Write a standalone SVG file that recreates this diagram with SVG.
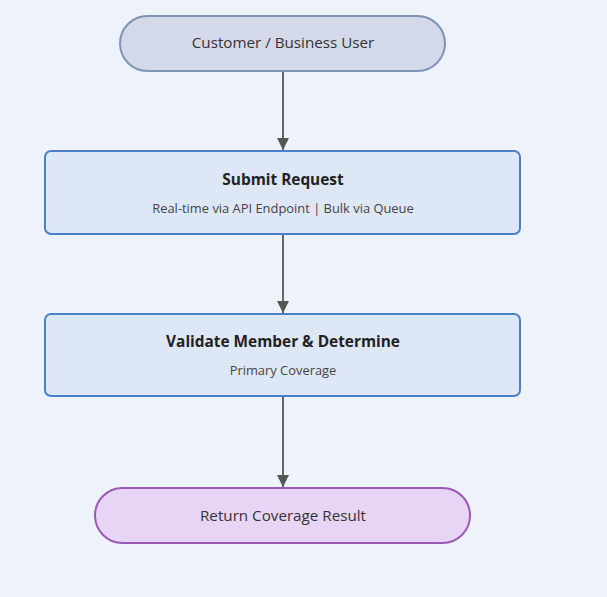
<svg xmlns="http://www.w3.org/2000/svg" width="607" height="597" viewBox="0 0 607 597">
<style>
text{font-family:"Open Sans","Noto Sans","Liberation Sans",sans-serif;text-anchor:middle}
.lbl{font-size:15.2px;fill:#333}
.ttl{font-size:15.4px;font-weight:bold;fill:#222}
.sub{font-size:12.9px;fill:#444}
.box{fill:#dde7f5;stroke:#4a80c8;stroke-width:2}
.edge{stroke:#666;stroke-width:2;fill:none}
</style>
<defs>
<marker id="arr" viewBox="0 0 10 10" refX="10" refY="5" markerWidth="6" markerHeight="6" markerUnits="strokeWidth" orient="auto">
<path d="M0,0 L10,5 L0,10 z" fill="#555"/>
</marker>
</defs>
<rect width="607" height="597" fill="#eef2fa"/>
<g id="connectors">
<line class="edge" x1="283" y1="72" x2="283" y2="150" marker-end="url(#arr)"/>
<line class="edge" x1="283" y1="235" x2="283" y2="313" marker-end="url(#arr)"/>
<line class="edge" x1="283" y1="397" x2="283" y2="487" marker-end="url(#arr)"/>
</g>
<g id="customer">
<rect x="120" y="16" width="325" height="55" rx="27.5" fill="#d3d9e8" stroke="#7f93b5" stroke-width="2"/>
<text class="lbl" x="283" y="47.5">Customer / Business User</text>
</g>
<g id="submit">
<rect class="box" x="45" y="151" width="475" height="83" rx="6"/>
<text class="ttl" x="283" y="185">Submit Request</text>
<text class="sub" x="283" y="212.5">Real-time via API Endpoint | Bulk via Queue</text>
</g>
<g id="validate">
<rect class="box" x="45" y="314" width="475" height="82" rx="6"/>
<text class="ttl" x="283" y="347">Validate Member &amp; Determine</text>
<text class="sub" x="283" y="375">Primary Coverage</text>
</g>
<g id="result">
<rect x="95" y="488" width="375" height="55" rx="27.5" fill="#e8d5f5" stroke="#9b59b6" stroke-width="2"/>
<text class="lbl" x="283" y="520.5">Return Coverage Result</text>
</g>
</svg>
